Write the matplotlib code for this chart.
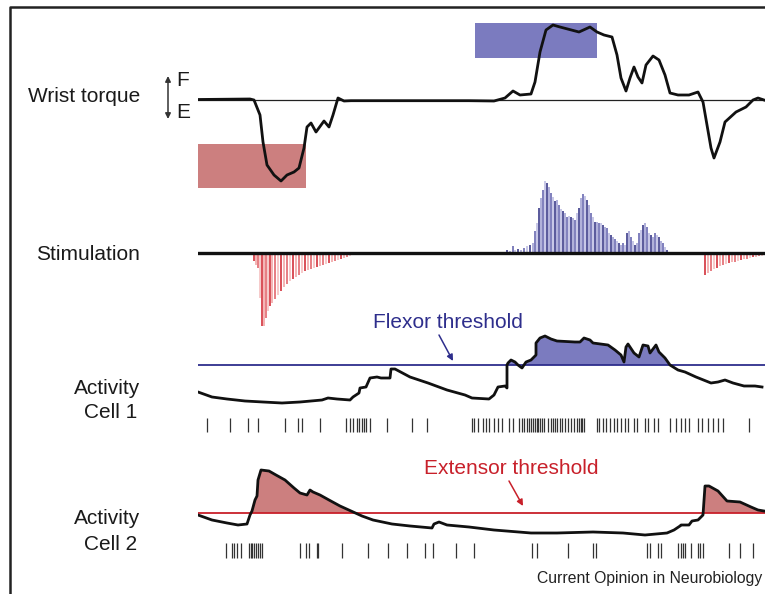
import numpy as np
import matplotlib.pyplot as plt
from matplotlib.patches import Rectangle

plt.rcParams['font.family'] = ['Liberation Sans', 'DejaVu Sans']

W, H = 765, 594
X0 = 198  # left edge of the traces (px)

# ---- data (time in arbitrary units, values relative to each baseline) ----
torque_t = [0, 52, 56, 62, 65, 69, 76, 83, 89, 96, 101, 106, 109, 113, 118, 126, 131, 135, 140, 146,
            153, 271, 296, 307, 315, 322, 333, 337, 342, 348, 355, 362, 381, 392, 399, 406, 414, 419, 423, 428,
            432, 436, 440, 444, 448, 455, 461, 467, 472, 480, 491, 500, 505, 509, 513, 516, 522, 527, 538, 548,
            555, 560, 566]
torque_v = [0.5, 1, 0, -15, -42, -65, -75, -81, -75, -72, -68, -48, -27, -23, -32, -21, -27, -15, 2, -1,
            -0.7, -0.7, -1, 2, 9, 5, 6, 18, 48, 70, 75, 73, 68, 73, 68, 65, 63, 45, 22, 9,
            22, 33, 23, 17, 35, 44, 40, 25, 7, 5, 5, 8, -2, -25, -48, -58, -42, -22, -12, -7,
            0, 2, 0]

# target windows: (t start, t end, low, high)
flex_target = (277, 399, 42, 77)
ext_target = (0, 108, -88, -44)

flex_stim_t = [309, 312, 315, 317, 320, 323, 326, 329, 332, 335] + list(range(337, 470, 2))
flex_stim_v = [3, 2, 7, 3, 4, 3, 5, 7, 8, 10,
               22, 30, 45, 55, 63, 72, 70, 66, 60, 56, 52, 53, 48, 44, 42, 40, 36, 37, 36, 35,
               33, 40, 45, 55, 59, 57, 53, 48, 40, 36, 31, 31, 30, 30, 28, 26, 25, 20, 18, 16,
               14, 12, 10, 8, 10, 8, 20, 22, 16, 12, 8, 10, 20, 23, 28, 30, 26, 20, 18, 16,
               20, 18, 16, 12, 10, 6, 3]
ext_stim_t = [56, 58, 60, 62, 64, 66, 68, 70, 72, 74] + list(range(77, 153, 3)) + list(range(507, 565, 3))
ext_stim_v = [-8, -12, -15, -45, -73, -73, -65, -58, -53, -50, -46, -42, -38, -34, -31, -28, -26, -24,
              -22, -20, -18, -17, -16, -15, -14, -13, -12, -11, -10, -9, -8, -7, -6, -5, -4, -3,
              -22, -20, -18, -16, -15, -13, -12, -11, -10, -9, -9, -8, -7, -6, -6, -5, -4, -4, -3, -3]

cell1_t = [0, 14, 29, 47, 65, 84, 102, 124, 130, 139, 152, 155, 161, 162, 168, 172, 179, 183, 192, 193,
           197, 212, 230, 249, 267, 274, 291, 296, 300, 307, 309, 309, 310, 313, 317, 320, 324, 328, 333, 338,
           338, 342, 347, 353, 359, 377, 382, 386, 392, 395, 410, 417, 423, 426, 428, 430, 436, 441, 445, 450,
           452, 458, 461, 467, 472, 480, 487, 498, 513, 520, 527, 535, 546, 557, 564]
cell1_v = [-27, -32, -34, -36, -37, -38, -37, -35, -33, -34, -35, -32, -28, -23, -22, -13, -12, -13, -13, -4,
           -4, -12, -18, -25, -30, -33, -34, -30, -22, -21, -23, 0, 2, 5, 3, 0, -3, 3, 5, 10,
           22, 27, 29, 26, 24, 23, 23, 27, 25, 22, 20, 15, 10, 3, 18, 21, 12, 8, 20, 19,
           12, 20, 13, 7, 0, -5, -7, -12, -18, -17, -15, -18, -21, -21, -22]
cell1_spikes = [8.5, 31.6, 49.9, 59.8, 86.6, 100.2, 103.8, 122.2, 147.8, 151.5, 155.2, 158.8, 161.4,
                163.6, 166.2, 168, 171.7, 189.3, 213.9, 228.5, 273.6, 276.2, 279.9, 285.4, 288.3, 290.9,
                296.4, 300, 303.7, 311, 314.7, 321.3, 323.9, 326.4, 328.6, 331.2, 333, 334.9, 336.7,
                338.5, 340.4, 342.2, 344, 345.9, 349.5, 353.2, 355, 356.9, 358.7, 361.6, 364.2, 366.8,
                369.7, 373.4, 376.3, 378.9, 380.7, 382.5, 384.4, 386.2, 399, 400.9, 404.5, 408.2, 411.9,
                415.5, 419.2, 422.9, 426.5, 430.2, 435.7, 439.4, 446.7, 449.6, 455.9, 459.5, 472.4,
                477.9, 483.4, 487.1, 490.7, 499.9, 503.5, 509.8, 514.6, 520, 524.5, 551.2]

cell2_t = [0, 14, 29, 40, 49, 52, 54, 57, 59, 60, 63, 71, 78, 87, 96, 102, 109, 112, 115, 122,
           131, 142, 153, 164, 175, 194, 212, 234, 236, 241, 249, 271, 296, 333, 359, 395, 425, 447, 469, 476,
           482, 483, 491, 494, 500, 504, 505, 507, 511, 520, 529, 542, 553, 560, 566]
cell2_v = [-2, -7, -10, -12, -11, -2, 2, 13, 17, 33, 43, 42, 38, 33, 25, 20, 18, 23, 21, 18,
           13, 7, 2, -3, -7, -11, -13, -15, -11, -9, -12, -14, -17, -20, -20, -19, -20, -22, -20, -17,
           -13, -12, -12, -8, -7, -3, -2, 27, 27, 22, 12, 11, 6, 3, 2]
cell2_spikes = [27.6, 34.2, 36, 38.9, 43.3, 50.7, 52.5, 54.3, 56.2, 58, 59.8, 61.7, 63.5, 102, 107.5,
                111.2, 118.5, 120.3, 144.2, 169.9, 190, 209.1, 226.7, 235.1, 257.9, 275.5, 334.1, 338.5,
                369.7, 394.6, 398.3, 448.5, 452.2, 459.5, 463.2, 479.7, 483.4, 485.2, 487.1, 492.5,
                499.9, 502.4, 504.7, 531, 542, 554.9]

BLUE_FILL = '#7b7bbf'
RED_FILL = '#cc7f7f'
BLUE_LINE = '#2e2e8c'
RED_LINE = '#c8202a'

fig = plt.figure(figsize=(W / 100, H / 100), dpi=100)


def panel(top, bottom, zero):
    # one px in the picture = one data unit
    ax = fig.add_axes([X0 / W, 1 - bottom / H, (W - X0) / W, (bottom - top) / H])
    ax.set_xlim(0, W - X0)
    ax.set_ylim(zero - bottom, zero - top)
    ax.axis('off')
    return ax


# Wrist torque
ax1 = panel(10, 200, 100)
ax1.add_patch(Rectangle((flex_target[0], flex_target[2]), flex_target[1] - flex_target[0],
                        flex_target[3] - flex_target[2], color=BLUE_FILL, lw=0, zorder=1))
ax1.add_patch(Rectangle((ext_target[0], ext_target[2]), ext_target[1] - ext_target[0],
                        ext_target[3] - ext_target[2], color=RED_FILL, lw=0, zorder=1))
ax1.axhline(0, color='#222222', lw=0.9, zorder=2)
ax1.plot(torque_t, torque_v, color='#111111', lw=2.0, zorder=3, solid_joinstyle='round')

# Stimulation
ax2 = panel(170, 340, 253)
flex_cols = ['#2b2b80', '#9a9ad0', '#5c5cab', '#b8b8e0']
ext_cols = ['#d01f2a', '#f0a0a0', '#e05a60', '#f4bcbc']
ax2.vlines(flex_stim_t, 0, flex_stim_v, colors=[flex_cols[i % 4] for i in range(len(flex_stim_t))], lw=1.1)
ax2.vlines(ext_stim_t, 0, ext_stim_v, colors=[ext_cols[i % 4] for i in range(len(ext_stim_t))], lw=1.1)
ax2.axhline(0, color='#111111', lw=2.4)

# Activity cell 1
ax3 = panel(300, 440, 365)
c1t, c1v = np.array(cell1_t), np.array(cell1_v)
ax3.fill_between(c1t, c1v, 0, where=c1v > 0, interpolate=True, color=BLUE_FILL, lw=0)
ax3.axhline(0, color=BLUE_LINE, lw=1.3)
ax3.plot(c1t, c1v, color='#111111', lw=2.0)
ax3.vlines(cell1_spikes, -67, -53, color='#333333', lw=0.9)

# Activity cell 2
ax4 = panel(450, 570, 513)
c2t, c2v = np.array(cell2_t), np.array(cell2_v)
ax4.fill_between(c2t, c2v, 0, where=c2v > 0, interpolate=True, color=RED_FILL, lw=0)
ax4.axhline(0, color=RED_LINE, lw=1.3)
ax4.plot(c2t, c2v, color='#111111', lw=2.0)
ax4.vlines(cell2_spikes, -45, -30, color='#333333', lw=0.9)

# overlay for labels, frame and arrows (px coordinates)
bg = fig.add_axes([0, 0, 1, 1], zorder=-1)
bg.set_xlim(0, W)
bg.set_ylim(H, 0)
bg.axis('off')
bg.plot([10, 10, W], [H, 7, 7], color='#222222', lw=1.8, solid_capstyle='butt')

lab = dict(fontsize=15, color='#1a1a1a', va='center')
bg.text(140, 97, 'Wrist torque', ha='right', **lab)
bg.text(140, 254, 'Stimulation', ha='right', **lab)
bg.text(140, 389, 'Activity', ha='right', **lab)
bg.text(137, 412, 'Cell 1', ha='right', **lab)
bg.text(140, 518, 'Activity', ha='right', **lab)
bg.text(137, 544, 'Cell 2', ha='right', **lab)
bg.text(176, 81, 'F', ha='left', **lab)
bg.text(176, 112, 'E', ha='left', **lab)
bg.annotate('', xy=(168, 76), xytext=(168, 119),
            arrowprops=dict(arrowstyle='<|-|>', color='#333333', lw=1.1, mutation_scale=8,
                            shrinkA=0, shrinkB=0))

bg.text(448, 322, 'Flexor threshold', ha='center', va='center', fontsize=15, color=BLUE_LINE)
bg.annotate('', xy=(453, 361), xytext=(439, 335),
            arrowprops=dict(arrowstyle='-|>', color=BLUE_LINE, lw=1.1, mutation_scale=9,
                            shrinkA=0, shrinkB=0))
bg.text(511, 469, 'Extensor threshold', ha='center', va='center', fontsize=15, color=RED_LINE)
bg.annotate('', xy=(523, 506), xytext=(509, 481),
            arrowprops=dict(arrowstyle='-|>', color=RED_LINE, lw=1.1, mutation_scale=9,
                            shrinkA=0, shrinkB=0))

bg.text(762, 578, 'Current Opinion in Neurobiology', ha='right', va='center', fontsize=11.3,
        color='#222222')

fig.savefig('out.png', dpi=100)
